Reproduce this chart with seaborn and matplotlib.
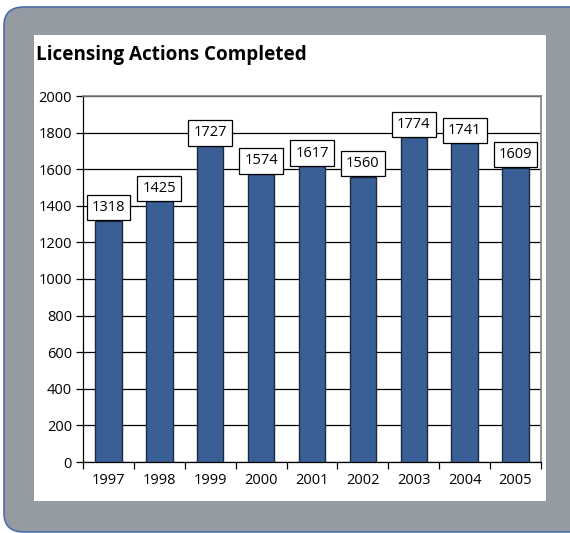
import matplotlib
matplotlib.use("Agg")
import matplotlib.pyplot as plt
from matplotlib.patches import FancyBboxPatch, Rectangle
import seaborn as sns
import pandas as pd

# data
years = ['1997', '1998', '1999', '2000', '2001', '2002', '2003', '2004', '2005']
actions = [1318, 1425, 1727, 1574, 1617, 1560, 1774, 1741, 1609]

df = pd.DataFrame({'year': years, 'actions': actions})

sns.set_theme(style='white')
plt.rcParams['font.family'] = ['Open Sans', 'DejaVu Sans']
plt.rcParams['text.color'] = 'black'
plt.rcParams['xtick.color'] = 'black'
plt.rcParams['ytick.color'] = 'black'

W, H = 570, 533
fig = plt.figure(figsize=(W / 100, H / 100), dpi=100)
fig.patch.set_facecolor('white')

# grey rounded frame + white panel
frame = FancyBboxPatch((4 / W, 1 / H), 620 / W, (526 - 1) / H,
                       boxstyle='round,pad=0,rounding_size=0.035',
                       transform=fig.transFigure, facecolor='#959ba2',
                       edgecolor='#4a6ea8', linewidth=1.2, zorder=-2)
fig.patches.append(frame)
panel = Rectangle((34 / W, 1 - 501 / H), (546 - 34) / W, (501 - 35) / H,
                  transform=fig.transFigure, facecolor='white',
                  edgecolor='none', zorder=-1)
fig.patches.append(panel)

fig.text(36 / W, 1 - 55 / H, 'Licensing Actions Completed', fontsize=13.6,
         fontweight='bold', ha='left', va='center', color='black')

ax = fig.add_axes([83 / W, 1 - 462 / H, (541 - 83) / W, (462 - 96) / H])
ax.set_zorder(5)
ax.set_facecolor('white')

sns.barplot(data=df, x='year', y='actions', ax=ax, color='#3a5f96',
            width=0.52, edgecolor='#1a2a40', linewidth=1.0, saturation=1,
            zorder=3)

ax.set_ylim(0, 2000)
ax.set_xlim(-0.5, len(years) - 0.5)
ax.set_yticks(range(0, 2001, 200))
ax.yaxis.grid(True, color='black', linewidth=0.9, zorder=0)
ax.set_axisbelow(True)

for s in ['left', 'bottom']:
    ax.spines[s].set_color('black')
    ax.spines[s].set_linewidth(0.9)
for s in ['top', 'right']:
    ax.spines[s].set_color('#808080')
    ax.spines[s].set_linewidth(1.2)

ax.set_xlabel('')
ax.set_ylabel('')
ax.set_xticks([i + 0.5 for i in range(-1, len(years))])
ax.set_xticklabels([])
ax.set_xticks(range(len(years)), minor=True)
ax.set_xticklabels(years, minor=True)
ax.tick_params(axis='x', which='major', direction='out', length=5, width=0.9,
               color='black', bottom=True)
ax.tick_params(axis='x', which='minor', length=0, pad=8, labelsize=10.5,
               labelcolor='black')
ax.tick_params(axis='y', direction='out', length=5, width=0.9, color='black',
               left=True, labelsize=10.5, pad=3, labelcolor='black')

for i, v in enumerate(actions):
    ax.annotate(str(v), (i, v), xytext=(0, 4), textcoords='offset points',
                ha='center', va='bottom', fontsize=10.5, zorder=5,
                color='black',
                bbox=dict(boxstyle='square,pad=0.35', facecolor='white',
                          edgecolor='black', linewidth=0.9))

fig.savefig('out.png', dpi=100)
